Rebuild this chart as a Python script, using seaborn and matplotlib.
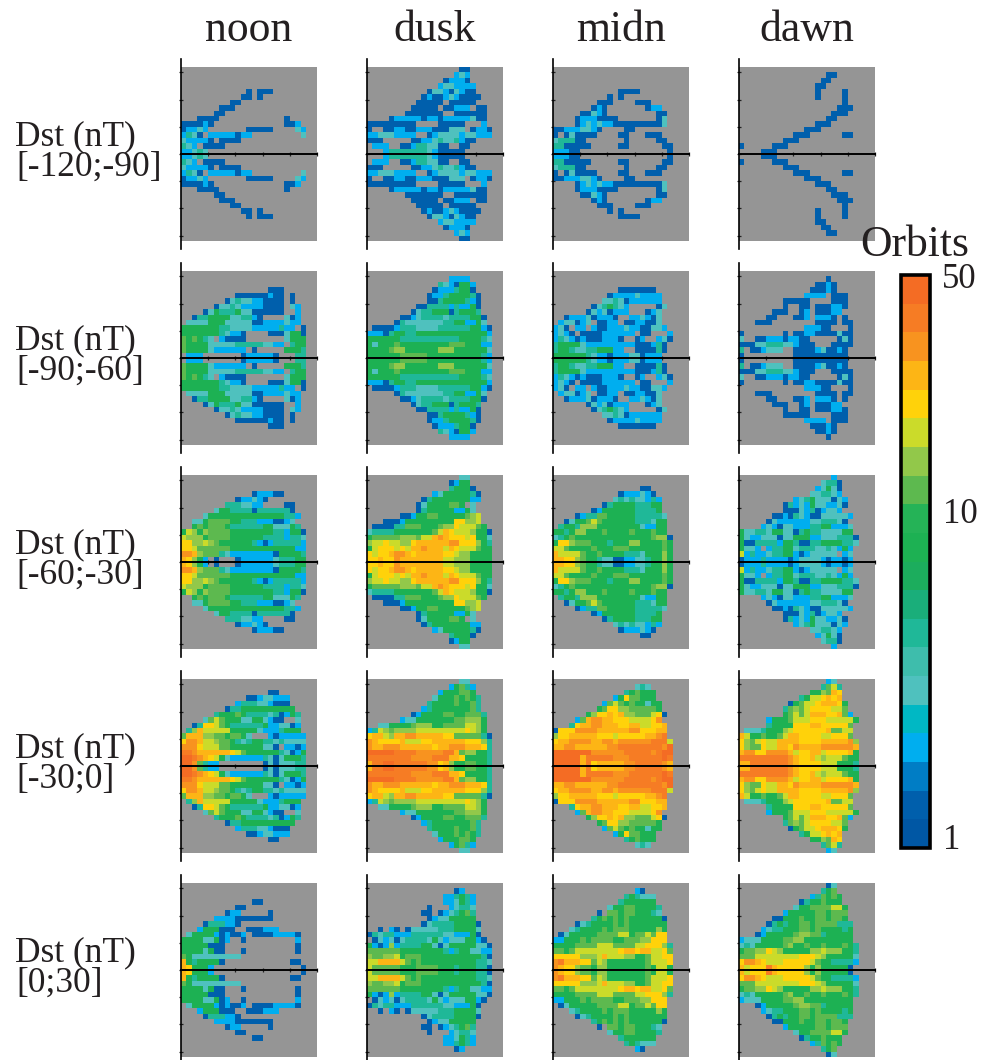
import numpy as np
import matplotlib
matplotlib.use("Agg")
import matplotlib.pyplot as plt
from matplotlib.colors import ListedColormap, LogNorm
import seaborn as sns

# Orbit counts, coded by colour level: '.' = no data, a (1 orbit) ... t (50 orbits)
# Only the upper half of each panel is listed, the lower half mirrors it.
NOON_M120 = ["", "", "", "",
    "............b.bbb", "...........bb.b", ".........bb", ".......bbb", "......bb",
    "...bbbb............b", "bbbbdb.............bbd", "bddfd.......bbbbb....fd",
    "dhfb.dddddbdd.........f", "fddddb.bbbb", "hfd.bbbb", "ddfhf"]
DUSK_M120 = [".................bb", "................dfd", "..............bdddb", ".............dffdddd",
    "...........bffdbfdbb", "..........bdbbdfdbbbb", ".........bbbbb.bbbbb", "........bbbbb.bbddd.bb",
    ".......bbbbbbb..bbbbbb", "....bdddddbddbdddddfbb", "bbbbbbbbb....bbbbb...d", "b..bbddbbdddbbbfff.bddb",
    "ddfffdddd..bdffffdffddd", "bbb.....bbddfhffhdbb", ".ddd..bbdhhffbb..bb", "...dhhhhhhhfdbbbbb"]
MIDN_M120 = ["", "", "", "",
    "............bbbb", "..........b.b", "........bbb....bbb", ".......bdb.......bdd",
    ".....bbfdb.........bb", "....bdddbbbb.......bf", "....bdfdfddbbbbbbbbbf", "bbdddffdb....bb",
    "b.bfbbbb....bb...bbb", "fhhhbb.......b.....bb", "hhbbbbb.....bb......bb", "dddbb................b"]
DAWN_M120 = ["", "................bb", "...............bb", "..............bb",
    "..............b....b", "..............b....b", "...................b", "..................bbb",
    ".................bbb", "................bb", "..............bbb", "............bbb",
    "..........bbb......bb", "........bbb", "b.....bbb", "....bbb"]

NOON_M90 = ["", "", "", "................bbb",
    "..........bbbbbbdbb.b", "........bfhffddbbbb.b", "......bffhfddddbbbb.fd", "....bfkhhhkffbbbbbb..d",
    "..bhhkkkkffhhdb....fbd", ".ffffkkkfffffbbddddfdd", "kkkkkkkhhffffdddddhdd.b", "kkkkkkkhfddb....bbbfkkb",
    "mkmkhf.dbbbb.......fkkk", "mkkkkfffffhhhhhffdd.hkk", "mkkkkfdddddd.b.....kkkh", ".ddd.......bdddddb...hh"]
DUSK_M90 = ["", "...............dddd", ".............hfdbkkd", "............bdddhkkb",
    "...........bddhkkkkhb", "...........bbhkkkkhdb", ".........bbhhhhdhddkb", "........bfhhkkkbhkkkh",
    "......bbdfhhhhfhhhhkkb", ".....bhfffffffhhkkddkf", ".bbbbdhhhffffhhhhhhkkdb", "dddbhkkhhkkkkkkkkkkkkkd",
    "kkkkkkhhhhhhhhhhhkkkkhf", "kfkkkmkkkkkkkkkmmmkkkdd", "kkkkmnnkkkkkknnnkkkkkkf", "kkkkkkmmmmmkkkkkkkkkkhd"]
MIDN_M90 = ["", "", "", "............bbbbbbb",
    "..........bddddfdddd", ".........ffhfbdddddd", ".......bfhkhfd.....bf", "......bfdfbddd...bdf",
    "..bdddfbdddb..ddfdbf", ".dffbdf.bbdd.bbddbbf", "dfb.dd.dbbdddfddbbffd", "dfdb.bbbbdddddd.bb...d",
    "dhfdbdbbbdddb..bd..dfb", "hkkkkfdddddddddbbbdhb", "hkkhffhhkkkdd..bbbbhb", "kkkkkkhfddbdddffbddd"]
DAWN_M90 = ["", "................b", "..............bbdb", ".............bbbdb",
    "............dddd.bbb", "........bbbbb....bbb", "........b..bb.bbbddb", "......bbb..bd.bbbdd",
    ".....bb...bbd.dddb.b", "...bbb........bbbb.bb", "............dddbb...b", "b.......b.bbddbbbbfbb",
    "f..bbdddbddbb.....bfb", "bbbffhhhffdbbb...bbbb", "h.bbdfff..bbbbdfbbdb", "b.........bbbbbbbbbb"]

NOON_M60 = ["", "", "", ".............bdddbb",
    "..........bddfdb", "........hhhffdd....bb", "......fkkhhhhbhhhhhhb", "....fkkkkkkkkkkkkkkhhd",
    "..ffkmmmmkkhhhdddbbdf", "..kmkmmmkhhhhhhkkfffkh", "konknmmmmkkkkkkkkhhdkkb", "onnnkmmmmkkkkkkhhhhdhhf",
    "ppnnonmkkkkkkhdbdhhhhhd", "ppommmmmmkkkkkkkkkkkkdd", "rrqnmmmhfddddddddbkkkkh", "qpnkd.b...bddddddfhhhkk"]
DUSK_M60 = [".................ff", "...............bdkk", "...............hkkkb", "............dfkkkkkhb",
    "..........bhkkkkkkkdd", ".........bfkkkkmmk.f", ".........bhkkkkkddkf", "......bbdkkmmkkkkkmno",
    "...bbbdkkkkkkkkkppnno", ".bbbbhhmmmkkkmnnpooomk", "fhhhhkkkkkkkmoqpooonkkb", "kmmmmmnnnmooqrqpppopkkf",
    "noopoonnpqqqqqqrrpppnkh", "kopppopoqqrqqqoqpooomkk", "poppqrrqpqqqqqpponnkkkk", "ppqpprqqqqqqqqoonnnkkkk"]
MIDN_M60 = ["", "", "................bb", "............bdddfdb",
    "...........fhfhffdhd", ".........bhkkkkhhhkk", ".......bdkkkkkkhhhhk", "....bdhhmmkkkkkhhhhhf",
    "..bfkkmomkkkkkkhhhfkk", ".hkkhnnnkkkkkkkkfddkk", "kkhknnkkkmkkkkmkkkmkk", "fhkmkkkkkkkkkkkkkkmnnb",
    "kppnmmmkkkhkkknnkkkkmk", "oomkkkkmkkkmmmkkkkkkmk", "qoooomkkmkkkkhhhfkkknk", "qqppnmkkhffbbddffhkknk"]
DAWN_M60 = [".................d", "...............fhhb", "..............dfkfb", ".............ffhhfd",
    "..........dfhkfffbfd", "........bhdfdkffddfb", "........bbbfdhbdffd", "......bbdbhfdbbfffffd",
    ".....bfddddddffhhhfb", "....dfdbffdddhhkkdddf", "kffhhfkkffbhkhhffffkk", "kfddfffbffkkkddfffhhhb",
    "kbbhhhhdkkhbbhhkkkkhhf", "kffd.dhhkkfhhhffhfdkd", "odhddfhhkkdbdfffff.df", "bdddhddddbdffffdbddbd"]

NOON_M30 = ["", "", "................bb", "............bbdffddd",
    "..........dhhhffdbbb", "........bhhkkkkkkkkkk", "......hkkkmkhhhhfhbdkh", "....fmomkkkffkkfdbb..f",
    "..bhppomkhhhhhhkddffbd", ".hnqoooookkkkkfdddhkkk", "mqqqnnmmkmmkf...dbddddd", "prrqoonmmkhfhkkhhfhffff",
    "rrrpooommkkkkkkffb.ddbd", "ssrqqqqqqpomkkkkkkhfbdk", "ttsrqpokfddddddhfbfkkkh", "ttrmhdd........bfbfffhh"]
DUSK_M30 = [".................ff", "...............dkmhd", ".............dkkkmmk", "............fkkkmkmkh",
    "...........hkkkkmkkmh", "..........dhkkkkkkkmh", "........bdkkkkmmkkmmmh", "......dffkkkkkkkmmnnnk",
    "..ffkkkkmnnnkkmmmmoonk", "dhonmnnnnoooooooooponk", "pqqonqqrrqqqqqppmmmmmhb", "rqppppqoooppqqqqqqpppnh",
    "rqqrrrqqqqqqpqqrrrqqqph", "tttttssssrrrrrssqmnnkkh", "ssssssssrrrrsssqqpkkkkh", "qssttssssssrrpqnkkmmkkh"]
MIDN_M30 = ["", "...............fhf", ".............hkmkkk", "...........dkpmmkkk",
    ".........dmomkmkkfkk", "........kmppnnmmmmmk", "......knppqpqnnmmmopb", "....dmqrrqqpppoooopr",
    "...hpqqrrqqqppqqooppq", "bppprrrrqqqqqqrrpppqq", "nppqqqqqpppopppppqqrs", "pqqrrrrqqrrqrrrrrrssso",
    "qqrrqqqqqqrrssssssssrt", "tttttttrrrrrrsssssrstt", "tttttqsssssrrrssssssts", "tttttqspqqqqqrrsssssrq"]
DAWN_M30 = ["................df", "...............hmoh", ".............kknmqp", "...........hkoopqpq",
    ".........bkmoopqqqpk", "........hmnmoppppoom", "........kmomoqqqppqmd", ".....dkkkmooopppoooook",
    ".....hkkkkpppqqpppppm", ".fffhkkknoppppppqmmoo", "qokkmkkmoqqppppoopppm", "pnmopooqqqqppppqqqqqrn",
    "pnmmpooqqprqqqqrrrrrrq", "qrrpprrrrqoppqqoppppqk", "sssssssssrqppqonooomkk", "qqsssssssrqppppoookkkh"]

NOON_P0 = ["", "", "", ".............bb",
    "..........bb", "........bdd.....b", "......ddddbbbbbbb", "....bhhhddb",
    "...dkkkbbb..bbbddd", ".fkkkkdbdbbd.bbbbddddb", "kkkkffkbd..b.........d", "kkkkkbbb.............b",
    "kkkkfkbb...b.........b", "mkfffffffff", "qkhkkkkb............bb", "qpkkkd................b"]
DUSK_P0 = ["", "................bd", "..............ddhkhd", "..............ddfkhd",
    "...........b...dfhhf", "..........bb.bdfhkmh", "...........bdffkkkkk", "..........bfhhhhkkkkb",
    "..b.db.bfffffhhhkkkkf", "bhfhhdddhhhhhhffdddkb", ".bfdfbfhhhhfkfdfffkkdb", "kdbdndhhhhkkfbfkkkkkffb",
    "mmmmmmkkkkkkkkhdhkkffdd", "nmmnnokmmmkkkkkkkkkkkhb", "ooqqqqomkmkkkkkkkkkkhhf", "ommmmmkkkmmmmkkkhkkkhhb"]
MIDN_P0 = ["", "...............db", ".............hkhfff", "............hkkkkkk",
    "..........fkkmmkkkkh", "........b.mmkmmkkkhf", ".......hkmkmkmkkkkkkb", "....bfhkkkkmkmkkkkkkk",
    "...fhkkkkmkmmmkkkkknk", ".bfkkkkkmmmmookmmompp", "ddkkkmkmmmmkkmmmnnppp", "kkkkmmmmooommmmoopppnh",
    "mmkmoooooooopqqpqqoopm", "pppppnnnoqooonnkkmoopp", "rsqqqppmonkkkkkkkmooop", "rqppnmmknnkkkkkkkmkook"]
DAWN_P0 = ["................bf", "...............hkm", ".............dhmkmk", "...........bhkkmkkk",
    "..........fkkmmmmook", "........dkkkkkmmkmmm", "......bbkkkmkkmmkmmk", ".....bhkhkkmmkmmmmhhh",
    "....dfhhkkkmmkmkkkkhk", "...bdkkkkkmnnmmhkkkkk", "dfffkkkkmmnnkkkkkkkkk", "fhfkkkkkmnkkmkkmkkkmkh",
    "kmmnnponkkkkknnonnnkkh", "mmmoooooooopppon" + "kkkkkf", "prrqpoooppppp" + "omkkhhhhd", "qoppps" + "qppppp" + "nknkkkkkb"]

COLUMNS = ["noon", "dusk", "midn", "dawn"]
DST_BINS = ["[-120;-90]", "[-90;-60]", "[-60;-30]", "[-30;0]", "[0;30]"]
PANELS = [
    [NOON_M120, DUSK_M120, MIDN_M120, DAWN_M120],
    [NOON_M90, DUSK_M90, MIDN_M90, DAWN_M90],
    [NOON_M60, DUSK_M60, MIDN_M60, DAWN_M60],
    [NOON_M30, DUSK_M30, MIDN_M30, DAWN_M30],
    [NOON_P0, DUSK_P0, MIDN_P0, DAWN_P0],
]

# Colour bar, bottom to top
LEVEL_COLORS = ["#0057a4", "#005fac", "#007dc5", "#00aeef", "#00b8c4", "#4fc1be", "#3ebdac",
                "#1fb898", "#1aae7a", "#1cad5d", "#1db153", "#25b357", "#5db94f", "#92c84a",
                "#cbdb2a", "#ffd20a", "#fdb515", "#f8931f", "#f67c24", "#f46c24"]
LEVEL_CODES = "abcdefghijklmnopqrst"
ORBIT_TICKS = [1, 10, 50]

W, H = 981, 1060
N_COLS = 25
PANEL_X = [181, 367, 553, 739]
PANEL_Y = [67, 271, 475, 679, 883]
PANEL_W, PANEL_H = 136, 174

sns.set_theme(style="white")
plt.rcParams['font.family'] = ['Liberation Serif', 'DejaVu Serif']
TEXT_COLOR = "#231f20"


def decode(rows):
    # level strings to orbit counts, mirrored about the equator line
    top = np.full((16, N_COLS), np.nan)
    for i, row in enumerate(rows):
        for j, ch in enumerate(row[:N_COLS]):
            if ch != '.':
                top[i, j] = 50 ** ((LEVEL_CODES.index(ch) + 0.5) / len(LEVEL_CODES))
    return np.vstack([top, top[::-1]])


def px_axes(fig, x, y, w, h):
    return fig.add_axes([x / W, 1 - (y + h) / H, w / W, h / H])


def px_text(fig, x, y, s, size, **kw):
    fig.text(x / W, 1 - y / H, s, fontsize=size, color=TEXT_COLOR, va='baseline', **kw)


fig = plt.figure(figsize=(W / 100, H / 100), dpi=100)
cmap = ListedColormap(LEVEL_COLORS)
norm = LogNorm(vmin=1, vmax=50)
cax = px_axes(fig, 901, 275, 29, 573)

for r, row_panels in enumerate(PANELS):
    for c, rows in enumerate(row_panels):
        ax = px_axes(fig, PANEL_X[c], PANEL_Y[r], PANEL_W, PANEL_H)
        first = r == 0 and c == 0
        sns.heatmap(decode(rows), ax=ax, cmap=cmap, norm=norm, square=False,
                    xticklabels=False, yticklabels=False,
                    cbar=first, cbar_ax=cax if first else None)
        ax.set_facecolor("#959595")
        # axis cross: long line on the left, equator line through the middle
        for side in ['top', 'right']:
            ax.spines[side].set_visible(False)
        ax.spines['left'].set_visible(True)
        ax.spines['left'].set_color('black')
        ax.spines['left'].set_linewidth(1.2)
        ax.spines['left'].set_bounds(33.4, -1.4)
        ax.spines['bottom'].set_visible(True)
        ax.spines['bottom'].set_color('black')
        ax.spines['bottom'].set_linewidth(1.4)
        ax.spines['bottom'].set_position(('data', 16))
        ax.set_xticks(np.arange(5, 26, 5))
        ax.set_yticks(np.arange(1, 32, 5))
        ax.tick_params(axis='both', direction='inout', length=3, width=0.9, color='#222222',
                       bottom=True, left=True, labelbottom=False, labelleft=False)

for c, name in enumerate(COLUMNS):
    px_text(fig, PANEL_X[c] + 68, 41, name, 31.5, ha='center')

for r, label in enumerate(DST_BINS):
    base = 145 + 204 * r
    px_text(fig, 15, base, "Dst (nT)", 25.5, ha='left')
    px_text(fig, 16, base + 31, label, 25.5, ha='left')

cbar = fig.axes[1].collections[0].colorbar
cbar.set_ticks(ORBIT_TICKS)
cbar.set_ticklabels([])
cbar.outline.set_linewidth(2.6)
cbar.outline.set_edgecolor('black')
cax.minorticks_off()
cax.tick_params(length=0)

px_text(fig, 860, 256, "Orbits", 31.5, ha='left')
px_text(fig, 942, 288, "50", 25, ha='left')
px_text(fig, 943, 523, "10", 25, ha='left')
px_text(fig, 943, 849, "1", 25, ha='left')

fig.savefig("out.png", dpi=100)
